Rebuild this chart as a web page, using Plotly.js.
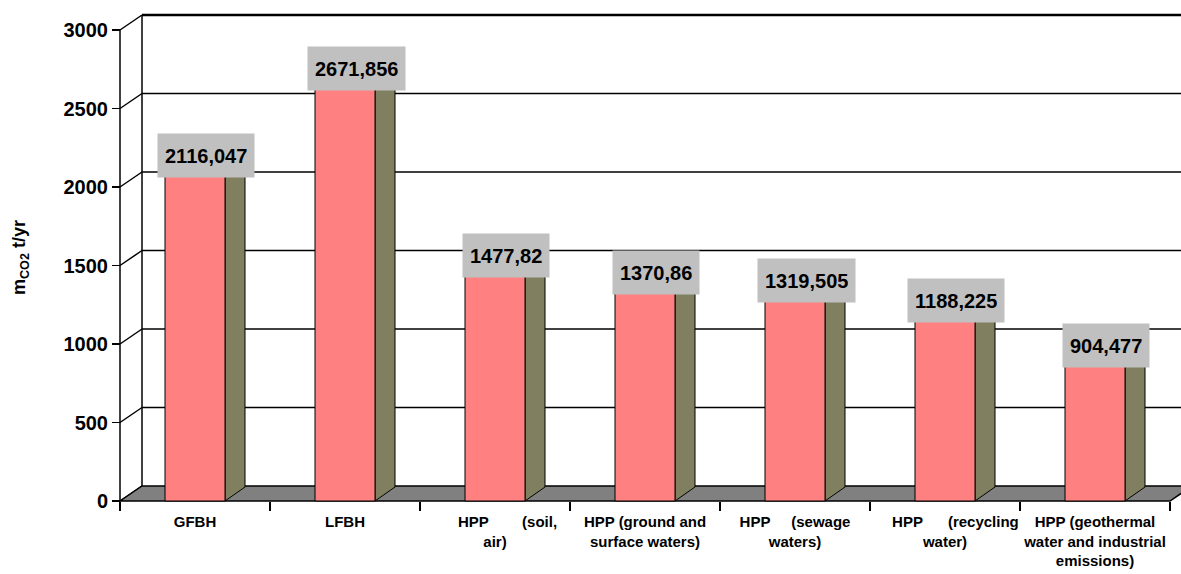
<!DOCTYPE html>
<html>
<head>
<meta charset="utf-8">
<script src="https://cdn.plot.ly/plotly-3.0.1.min.js"></script>
<style>
html,body{margin:0;padding:0;background:#ffffff;}
#chart{width:1181px;height:574px;}
</style>
</head>
<body>
<div id="chart"></div>
<script>
// ---------------- data ----------------
const categories = [
  'GFBH',
  'LFBH',
  'HPP (soil, air)',
  'HPP (ground and surface waters)',
  'HPP (sewage waters)',
  'HPP (recycling water)',
  'HPP (geothermal water and industrial emissions)'
];
const NB = '\u00a0';
const tickLabels = [
  'GFBH',
  'LFBH',
  NB.repeat(6) + 'HPP' + NB.repeat(8) + '(soil,<br>air)',
  'HPP (ground and<br>surface waters)',
  'HPP' + NB.repeat(5) + '(sewage<br>waters)',
  NB.repeat(5) + 'HPP' + NB.repeat(6) + '(recycling<br>water)',
  'HPP (geothermal<br>water and industrial<br>emissions)'
];
const emissions = [2116.047, 2671.856, 1477.82, 1370.86, 1319.505, 1188.225, 904.477];
const yTicks = [0, 500, 1000, 1500, 2000, 2500, 3000];
const yTitle = 'm<sub>CO2</sub> t/yr';

// ---------------- geometry / style ----------------
const W = 1181, H = 574;
const FRONT_LEFT_PX = 120, CAT_PX = 150, BASE_PX = 501, TOP_PX = 30;
const yMax = yTicks[yTicks.length - 1];
const pxPerY = (BASE_PX - TOP_PX) / yMax;
const xRange = [-0.5 - FRONT_LEFT_PX / CAT_PX, -0.5 + (W - FRONT_LEFT_PX) / CAT_PX];
const yRange = [-(H - BASE_PX) / pxPerY, yMax + TOP_PX / pxPerY];
const wallDX = 22 / CAT_PX, wallDY = 15 / pxPerY;
const barDX = 20 / CAT_PX, barDY = 14 / pxPerY;
const BAR_W = 0.4;
const FONT = 'Liberation Sans, Arial, sans-serif';
const idx = categories.map((c, i) => i);
const xL = -0.5, xR = categories.length - 0.5;

const shapes = [];
function seg(x0, y0, x1, y1, w) {
  return {type: 'line', xref: 'x', yref: 'y', x0: x0, y0: y0, x1: x1, y1: y1,
          line: {color: '#000000', width: w || 1.5}, layer: 'below'};
}
function poly(pts, fill, w) {
  return {type: 'path', xref: 'x', yref: 'y',
          path: 'M' + pts.map(p => p[0] + ',' + p[1]).join('L') + 'Z',
          fillcolor: fill, line: {color: '#000000', width: w || 1}, layer: 'below'};
}
// back wall gridlines
yTicks.forEach(v => {
  if (v > 0) shapes.push(seg(xL + wallDX, v + wallDY, xRange[1] + 1, v + wallDY, v === yMax ? 2.5 : 1.5));
});
// back wall left edge
shapes.push(seg(xL + wallDX, wallDY, xL + wallDX, yMax + wallDY, 1.5));
// side wall connectors
yTicks.forEach(v => shapes.push(seg(xL, v, xL + wallDX, v + wallDY, 1.5)));
// front value axis line
shapes.push(seg(xL, 0, xL, yMax, 1.5));
// floor
shapes.push(poly([[xL, 0], [xL + wallDX, wallDY], [xR + wallDX, wallDY], [xR, 0]], '#808080', 1.5));
// bar side and top faces
emissions.forEach((v, i) => {
  const xl = i - BAR_W / 2, xr = i + BAR_W / 2;
  shapes.push(poly([[xr, 0], [xr + barDX, barDY], [xr + barDX, v + barDY], [xr, v]], '#808060', 1));
  shapes.push(poly([[xl, v], [xl + barDX, v + barDY], [xr + barDX, v + barDY], [xr, v]], '#FFA0A0', 1));
});

const annotations = emissions.map((v, i) => ({
  x: i, y: v, xref: 'x', yref: 'y',
  text: String(v).replace('.', ','),
  showarrow: false, xshift: 11, yshift: 13.5,
  bgcolor: '#C0C0C0', borderpad: 7, height: 29,
  font: {family: FONT, size: 20, color: '#000000', weight: 'bold'}
}));
// value-axis title
annotations.push({
  xref: 'paper', yref: 'paper', x: 20 / W, y: (H - 258) / H,
  text: yTitle, textangle: -90, showarrow: false,
  xanchor: 'center', yanchor: 'middle',
  font: {family: FONT, size: 18, color: '#000000', weight: 'bold'}
});

const traces = [{
  type: 'bar',
  x: idx,
  y: emissions,
  width: BAR_W,
  marker: {color: '#FF8080', line: {color: '#000000', width: 1}},
  hoverinfo: 'skip'
}];

const layout = {
  width: W, height: H,
  margin: {l: 0, r: 0, t: 0, b: 0, pad: 0},
  paper_bgcolor: '#ffffff',
  plot_bgcolor: 'rgba(0,0,0,0)',
  showlegend: false,
  xaxis: {
    range: xRange, showgrid: false, zeroline: false, showline: false,
    tickmode: 'array', tickvals: idx, ticktext: tickLabels, ticks: '',
    ticklabelstandoff: 10,
    anchor: 'free', position: (H - BASE_PX) / H,
    tickfont: {family: FONT, size: 15, color: '#000000', weight: 'bold'},
    minor: {tickmode: 'linear', tick0: -0.5, dtick: 1, ticks: 'outside', ticklen: 9,
            tickwidth: 1.5, tickcolor: '#000000', showgrid: false},
    automargin: false, fixedrange: true
  },
  yaxis: {
    range: yRange, tickmode: 'array', tickvals: yTicks,
    ticks: 'outside', ticklen: 8, tickwidth: 1.5, tickcolor: '#000000',
    showgrid: false, zeroline: false, showline: false,
    anchor: 'free', position: FRONT_LEFT_PX / W,
    tickfont: {family: FONT, size: 20, color: '#000000', weight: 'bold'},
    automargin: false, fixedrange: true
  },
  shapes: shapes,
  annotations: annotations
};

Plotly.newPlot('chart', traces, layout, {displayModeBar: false, staticPlot: true});
</script>
</body>
</html>
